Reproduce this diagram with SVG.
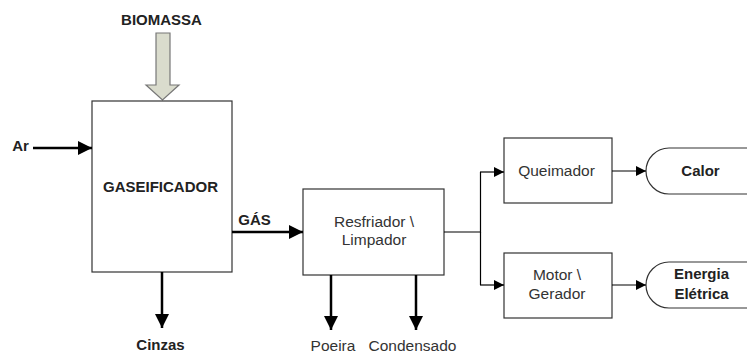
<svg xmlns="http://www.w3.org/2000/svg" width="747" height="352" viewBox="0 0 747 352">
<defs>
<marker id="ah" viewBox="0 0 10 10" refX="10" refY="5" markerWidth="10" markerHeight="10" markerUnits="userSpaceOnUse" orient="auto">
<path d="M0,0 L10,5 L0,10 z" fill="#000"/>
</marker>
<marker id="ahb" viewBox="0 0 14 14" refX="14" refY="7" markerWidth="14" markerHeight="14" markerUnits="userSpaceOnUse" orient="auto">
<path d="M0,0 L14,7 L0,14 z" fill="#000"/>
</marker>
</defs>
<style>
.box{fill:#fff;stroke:#333;stroke-width:1.2}
.t{font-family:"Liberation Sans",Arial,sans-serif;font-size:15.5px;fill:#333;text-anchor:middle}
.b{font-weight:bold;fill:#222;font-size:15px}
.line{fill:none;stroke:#000;stroke-width:1.2}
.thick{fill:none;stroke:#000;stroke-width:2.5}
</style>
<rect width="747" height="352" fill="#fff"/>
<g id="biomassa">
<text class="t b" x="161.5" y="25">BIOMASSA</text>
<path d="M156,33 H170 V85 H179 L162.5,100 L146,85 H156 Z" fill="#dadccd" stroke="#777" stroke-width="1.2"/>
</g>
<g id="gaseificador">
<rect class="box" x="92" y="101" width="140" height="171"/>
<text class="t b" x="160.5" y="191.5">GASEIFICADOR</text>
</g>
<g id="ar"><text class="t b" x="20.5" y="150.5">Ar</text></g>
<g id="cinzas"><text class="t b" x="160.5" y="350">Cinzas</text></g>
<g id="resfriador">
<rect class="box" x="303" y="189" width="141" height="86"/>
<text class="t" x="374" y="227">Resfriador \</text>
<text class="t" x="374" y="245">Limpador</text>
</g>
<g id="poeira"><text class="t" x="333" y="350.5">Poeira</text></g>
<g id="condensado"><text class="t" x="412.5" y="350.5">Condensado</text></g>
<g id="queimador">
<rect class="box" x="504" y="138" width="108" height="65"/>
<text class="t" x="556.5" y="176">Queimador</text>
</g>
<g id="motor">
<rect class="box" x="504" y="253" width="108" height="65"/>
<text class="t" x="557" y="280">Motor \</text>
<text class="t" x="557" y="299">Gerador</text>
</g>
<g id="calor">
<rect class="box" x="646" y="148" width="130" height="46" rx="23"/>
<text class="t b" x="700.5" y="176">Calor</text>
</g>
<g id="energia">
<rect class="box" x="646" y="262" width="130" height="46" rx="23"/>
<text class="t b" x="701.5" y="279">Energia</text>
<text class="t b" x="701.5" y="298.5">Elétrica</text>
</g>
<g id="connectors">
<line class="thick" x1="33" y1="148" x2="92" y2="148" marker-end="url(#ahb)"/>
<line class="thick" x1="232" y1="232" x2="303" y2="232" marker-end="url(#ahb)"/>
<text class="t b" x="254.5" y="225">GÁS</text>
<line class="thick" x1="162" y1="272" x2="162" y2="328" marker-end="url(#ahb)"/>
<line class="thick" x1="331" y1="275" x2="331" y2="330" marker-end="url(#ahb)"/>
<line class="thick" x1="416" y1="275" x2="416" y2="330" marker-end="url(#ahb)"/>
<path class="line" d="M444,232 H480.5 V172"/>
<path class="line" d="M480.5,232 V285"/>
<line class="line" x1="480" y1="172" x2="504" y2="172" marker-end="url(#ah)"/>
<line class="line" x1="480" y1="285" x2="504" y2="285" marker-end="url(#ah)"/>
<line class="line" x1="612" y1="171" x2="646" y2="171" marker-end="url(#ah)"/>
<line class="line" x1="612" y1="285" x2="646" y2="285" marker-end="url(#ah)"/>
</g>
</svg>
